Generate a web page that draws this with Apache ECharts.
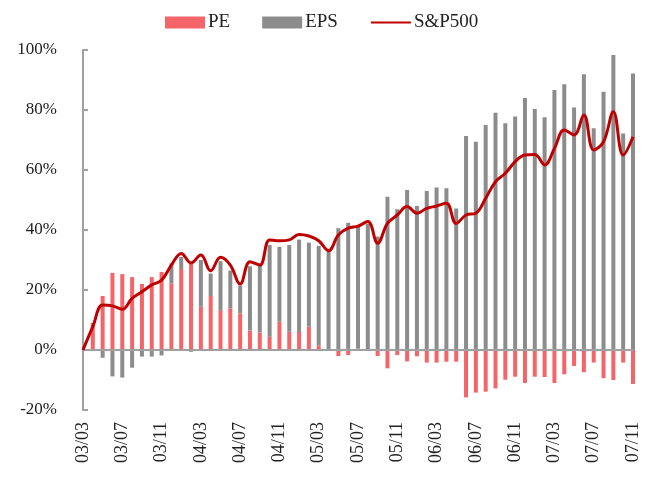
<!DOCTYPE html>
<html>
<head>
<meta charset="utf-8">
<script src="https://cdn.jsdelivr.net/npm/echarts@6/dist/echarts.min.js"></script>
<style>
  html, body { margin: 0; padding: 0; background: #fff; }
  #chart { width: 647px; height: 477px; }
</style>
</head>
<body>
<div id="chart"></div>
<script>
// 月份 03/03 ~ 07/11
var months = ['03/03', '03/04', '03/05', '03/06', '03/07', '03/08', '03/09', '03/10', '03/11', '03/12',
    '04/01', '04/02', '04/03', '04/04', '04/05', '04/06', '04/07', '04/08', '04/09', '04/10', '04/11', '04/12',
    '05/01', '05/02', '05/03', '05/04', '05/05', '05/06', '05/07', '05/08', '05/09', '05/10', '05/11', '05/12',
    '06/01', '06/02', '06/03', '06/04', '06/05', '06/06', '06/07', '06/08', '06/09', '06/10', '06/11', '06/12',
    '07/01', '07/02', '07/03', '07/04', '07/05', '07/06', '07/07', '07/08', '07/09', '07/10', '07/11'];

// PE 贡献 (%)
var pe = [0, 9, 18, 25.7, 25.3, 24.3, 22, 24.3, 26, 22.2,
    27, 29.5, 14.4, 18, 13.3, 13.9, 12.2, 6.5, 5.8, 4.4, 9.4, 6.1,
    6, 7.8, 1.5, 0, -2, -1.7, 0.5, 0, -2, -6.1, -1.7, -3.8,
    -2.1, -4.2, -4.2, -3.9, -3.9, -15.8, -14.2, -13.9, -12.8, -9.9, -8.9, -11,
    -8.9, -9, -11, -8.1, -5.3, -7.4, -4.2, -9.4, -10, -4.2, -11.3];

// EPS 贡献 (%)
var eps = [0, 0, -2.6, -8.8, -9.2, -5.9, -2.2, -2.2, -1.8, 6.7,
    4, -0.6, 15.6, 7.5, 16.3, 12.6, 9.3, 21.4, 22.5, 30.6, 25, 28.9,
    30.8, 28, 33.2, 32.8, 40.6, 42.4, 40.6, 42, 37.8, 51.1, 46.9, 53.3,
    48, 53, 54.2, 53.9, 47.2, 71.3, 69.4, 75, 79.1, 75.6, 77.8, 84,
    80.3, 77.6, 86.7, 88.6, 80.8, 91.9, 73.9, 86.1, 98.3, 72.2, 92.2];

// S&P500 累计涨幅 (%)
var spx = [0, 7.8, 15, 14.7, 13.6, 17.2, 19.4, 21.7, 23.3, 28.3,
    32.2, 29, 31.7, 26.4, 30.9, 28.3, 22, 29.4, 28.3, 36.7, 36.4, 36.7,
    38.5, 38, 36.4, 33.1, 38.3, 40.6, 41.3, 42.8, 35.6, 42.2, 45, 47.8,
    45.6, 47.2, 48, 48.9, 42.2, 45, 45.6, 50.6, 56.1, 58.9, 62.8, 65,
    65.2, 61.7, 67.2, 73.3, 71.7, 78.3, 66.7, 69.4, 79.4, 65, 71.1];

var yTicks = [-20, 0, 20, 40, 60, 80, 100];

var chart = echarts.init(document.getElementById('chart'));

var serif = '"Liberation Serif", "Times New Roman", serif';

var option = {
    animation: false,
    backgroundColor: '#fff',
    legend: {
        left: 160,
        top: 8,
        itemWidth: 40,
        itemHeight: 12,
        itemGap: 32,
        textStyle: {
            fontFamily: serif,
            fontSize: 19,
            color: '#222',
            padding: [0, 0, 0, -2]
        },
        data: [
            { name: 'PE', icon: 'rect' },
            { name: 'EPS', icon: 'rect' },
            // 只要线，不要圆点
            { name: 'S&P500', itemStyle: { opacity: 0 } }
        ]
    },
    grid: {
        left: 83,
        right: 14,
        top: 50,
        bottom: 67
    },
    xAxis: {
        type: 'category',
        data: months,
        boundaryGap: false,
        axisLine: { show: false, onZero: false },
        axisTick: { show: false },
        axisLabel: {
            interval: 3,
            rotate: 90,
            margin: 12,
            fontFamily: serif,
            fontSize: 18,
            color: '#222'
        },
        splitLine: { show: false }
    },
    yAxis: {
        type: 'value',
        min: yTicks[0],
        max: yTicks[yTicks.length - 1],
        interval: 20,
        axisLine: { show: true, lineStyle: { color: '#a0a0a0', width: 2 } },
        axisTick: { show: true, inside: true, length: 5, lineStyle: { color: '#a0a0a0', width: 2 } },
        axisLabel: {
            formatter: '{value}%',
            margin: 26,
            fontFamily: serif,
            fontSize: 17,
            color: '#222'
        },
        splitLine: { show: false }
    },
    series: [{
        name: 'PE',
        type: 'bar',
        stack: 'contrib',
        barWidth: 4,
        itemStyle: { color: '#f46469' },
        data: pe,
        markLine: {
            silent: true,
            symbol: 'none',
            label: { show: false },
            lineStyle: { color: '#a0a0a0', width: 2, type: 'solid' },
            data: [{ yAxis: 0 }]
        }
    }, {
        name: 'EPS',
        type: 'bar',
        stack: 'contrib',
        barWidth: 4,
        itemStyle: { color: '#8c8c8c' },
        data: eps
    }, {
        name: 'S&P500',
        type: 'line',
        smooth: 0.4,
        symbol: 'none',
        z: 5,
        lineStyle: { color: '#c00000', width: 3 },
        itemStyle: { color: '#c00000' },
        data: spx
    }]
};

chart.setOption(option);
</script>
</body>
</html>
